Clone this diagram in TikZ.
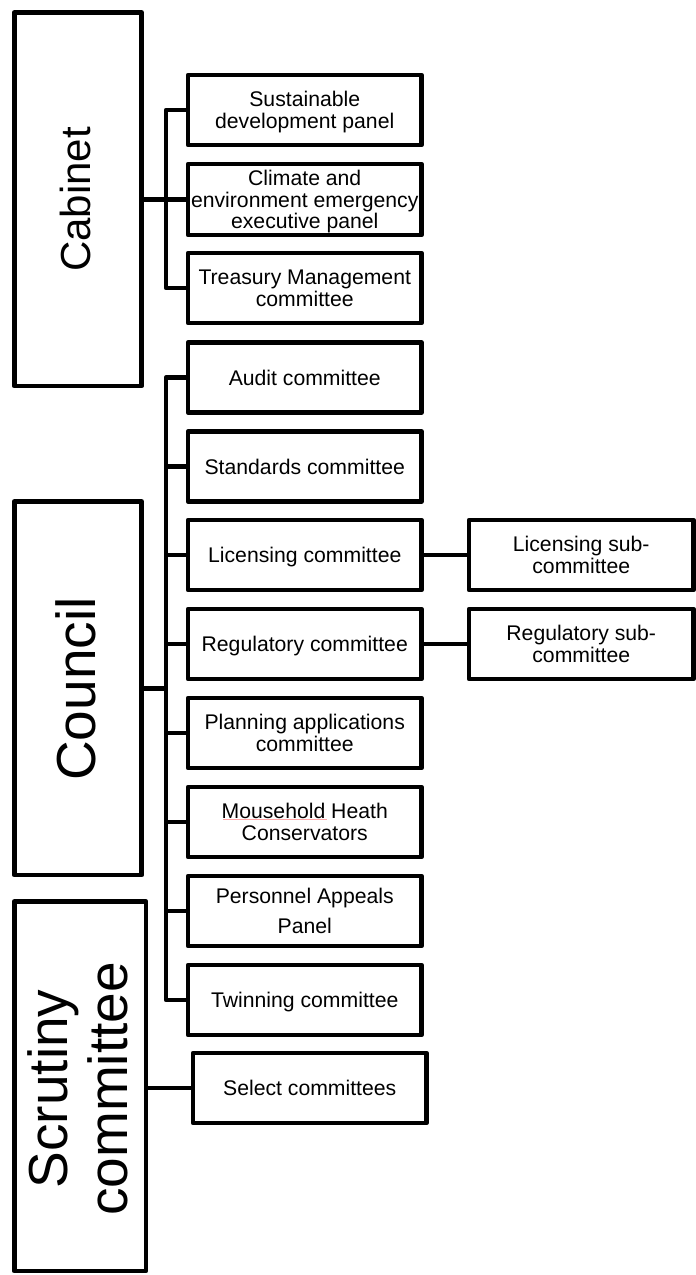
\documentclass[tikz,border=0pt]{standalone}
\usepackage{fontspec}
\setmainfont{Liberation Sans}
\begin{document}
\begin{tikzpicture}[x=1pt,y=-1pt,
  conn/.style={line width=4.7pt, line join=round},
  box/.style={draw, line width=4.7pt, line join=round, minimum width=233.5pt, minimum height=70pt,
    inner sep=0pt, align=center, font=\fontsize{21.2}{21.7}\selectfont, text height=15.2pt, text depth=0pt},
  twoline/.style={text height=36.9pt},
  threeline/.style={text height=58.6pt},
  subbox/.style={box, minimum width=224.5pt},
  bigbox/.style={draw, line width=4.7pt, line join=round, inner sep=0pt}
]
\useasboundingbox (0,0) rectangle (696,1275);

% main bodies
\node[bigbox, minimum width=127.4pt, minimum height=373.5pt] (cab) at (78,199.25) {};
\node[bigbox, minimum width=127.4pt, minimum height=373.5pt] (cou) at (78,688.25) {};
\node[bigbox, minimum width=131.7pt, minimum height=369.5pt] (scr) at (80.15,1086.25) {};

\node[rotate=90, inner sep=0pt, font=\fontsize{42}{42}\selectfont, text height=30pt, text depth=0pt] (cabt) at (75,199.5) {Cabinet};
\node[rotate=90, inner sep=0pt, font=\fontsize{55}{55}\selectfont, text height=39.4pt, text depth=0pt] (cout) at (76,689) {Council};
\node[rotate=90, inner sep=0pt, align=center, font=\fontsize{55}{60}\selectfont, text height=99.4pt, text depth=0pt] (scrt) at (77.5,1089) {Scrutiny\\committee};

% cabinet children
\node[box, twoline] (sus) at (304.75,110) {Sustainable\\development panel};
\node[box, threeline, minimum height=71pt] (cli) at (304.75,199.5) {Climate and\\environment emergency\\executive panel};
\node[box, twoline] (tre) at (304.75,288) {Treasury Management\\committee};

% council children
\node[box] (aud) at (304.75,377.5) {Audit committee};
\node[box] (sta) at (304.75,466.5) {Standards committee};
\node[box] (lic) at (304.75,555) {Licensing committee};
\node[box] (reg) at (304.75,644) {Regulatory committee};
\node[box, twoline] (pla) at (304.75,733) {Planning applications\\committee};
\node[box, twoline] (mou) at (304.75,822) {Mousehold Heath\\Conservators};
\node[box, text height=45.5pt] (per) at (304.75,911) {Personnel Appeals\\[8.3pt]Panel};
\node[box] (twi) at (304.75,1000) {Twinning committee};

% scrutiny child
\node[box] (sel) at (309.75,1088) {Select committees};

% sub-committees
\node[subbox, twoline] (lsub) at (581.25,555) {Licensing sub-\\committee};
\node[subbox, twoline] (rsub) at (581.25,644) {Regulatory sub-\\committee};

% spell-check underline
\draw[red!35, line width=0.8pt] ([shift={(-82,-3)}]mou.center) -- ([shift={(22,-3)}]mou.center);

% connectors: cabinet
\coordinate (cbus) at (166,0);
\draw[conn] (cab.east) -- (cab.east -| cbus);
\draw[conn] (sus.west) -- (sus.west -| cbus) -- (tre.west -| cbus) -- (tre.west);
\draw[conn] (cli.west) -- (cli.west -| cbus);

% connectors: council
\draw[conn] (cou.east) -- (cou.east -| cbus);
\draw[conn] (aud.west) -- (aud.west -| cbus) -- (twi.west -| cbus) -- (twi.west);
\foreach \n in {sta,lic,reg,pla,mou,per}
  \draw[conn] (\n.west) -- (\n.west -| cbus);

% connectors: scrutiny
\draw[conn] (scr.east |- sel.west) -- (sel.west);

% sub-committee connectors
\draw[conn] (lic.east) -- (lsub.west);
\draw[conn] (reg.east) -- (rsub.west);
\end{tikzpicture}
\end{document}
